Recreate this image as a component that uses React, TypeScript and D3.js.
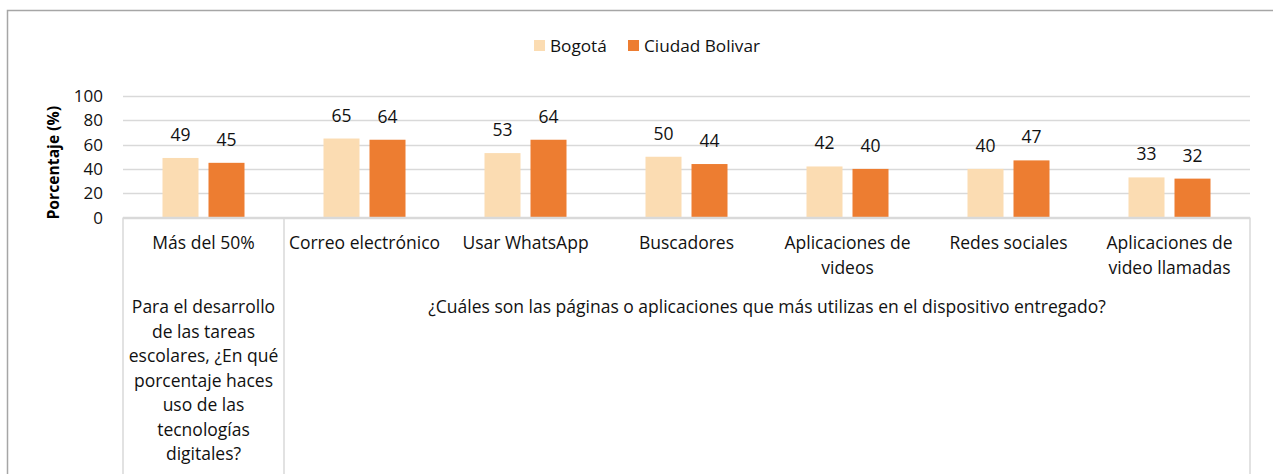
import React from "react";
import { scaleBand, scaleLinear } from "d3";

const categories = [
  "Más del 50%",
  "Correo electrónico",
  "Usar WhatsApp",
  "Buscadores",
  "Aplicaciones de videos",
  "Redes sociales",
  "Aplicaciones de video llamadas"
];
const categoryLines = [
  ["Más del 50%"],
  ["Correo electrónico"],
  ["Usar WhatsApp"],
  ["Buscadores"],
  ["Aplicaciones de", "videos"],
  ["Redes sociales"],
  ["Aplicaciones de", "video llamadas"]
];
const series = ["Bogotá", "Ciudad Bolivar"];
const bogota = [49, 65, 53, 50, 42, 40, 33];
const ciudadBolivar = [45, 64, 64, 44, 40, 47, 32];
const yTicks = [0, 20, 40, 60, 80, 100];

const groups = [
  {
    from: 0,
    to: 0,
    lines: [
      "Para el desarrollo",
      "de las tareas",
      "escolares, ¿En qué",
      "porcentaje haces",
      "uso de las",
      "tecnologías",
      "digitales?"
    ]
  },
  {
    from: 1,
    to: 6,
    lines: [
      "¿Cuáles son las páginas o aplicaciones que más utilizas en el dispositivo entregado?"
    ]
  }
];

const colors = ["#FBDCB2", "#ED7D31"];
const font = "'Open Sans', 'Noto Sans', sans-serif";
const ink = "#111";

export default function App() {
  const width = 1273,
    height = 474;
  const margin = { left: 123, right: 23, top: 96, bottom: 256.5 };
  const x0 = margin.left,
    x1 = width - margin.right,
    yBase = height - margin.bottom;

  const x = scaleBand<string>().domain(categories).range([x0, x1]);
  const bw = x.bandwidth();
  const xs = scaleBand<string>()
    .domain(series)
    .range([bw / 2 - 41, bw / 2 + 41])
    .paddingInner(10 / 46);
  const y = scaleLinear().domain([0, 100]).range([yBase, margin.top]);

  const values = [bogota, ciudadBolivar];

  return (
    <svg
      width={width}
      height={height}
      style={{ position: "absolute", left: 0, top: 0, background: "#fff" }}
      fontFamily={font}
    >
      <rect x={0} y={0} width={width} height={height} fill="#fff" />
      {/* outer border */}
      <path d={`M7.5,${height} V10.5 H${width}`} fill="none" stroke="#A6A6A6" strokeWidth={1.5} />

      {/* legend */}
      <g>
        {series.map((s, i) => {
          const lx = i === 0 ? 534 : 628;
          return (
            <g key={s}>
              <rect x={lx} y={40} width={11} height={11} fill={colors[i]} />
              <text x={lx + 16} y={52} fontSize={17.2} fill={ink}>
                {s}
              </text>
            </g>
          );
        })}
      </g>

      {/* gridlines */}
      {yTicks.map(t => (
        <line
          key={t}
          x1={x0}
          x2={x1}
          y1={Math.round(y(t)) + 0.5}
          y2={Math.round(y(t)) + 0.5}
          stroke="#D9D9D9"
          strokeWidth={1.5}
        />
      ))}

      {/* y tick labels */}
      {yTicks.map(t => (
        <text
          key={t}
          x={103}
          y={y(t) + 6}
          textAnchor="end"
          fontSize={17}
          fill={ink}
        >
          {t}
        </text>
      ))}

      <text
        transform={`translate(59, ${(y(0) + y(100)) / 2 + 6}) rotate(-90)`}
        textAnchor="middle"
        fontSize={15.7}
        fontWeight="bold"
        fill="#000"
      >
        Porcentaje (%)
      </text>

      {/* bars */}
      {categories.map((c, ci) =>
        series.map((s, si) => {
          const v = values[si][ci];
          const bx = (x(c) as number) + (xs(s) as number);
          return (
            <g key={c + s}>
              <rect
                x={bx}
                y={y(v)}
                width={xs.bandwidth()}
                height={yBase - y(v)}
                fill={colors[si]}
              />
              <text
                x={bx + xs.bandwidth() / 2}
                y={y(v) - 17}
                textAnchor="middle"
                fontSize={17.5}
                fill={ink}
              >
                {v}
              </text>
            </g>
          );
        })
      )}

      {/* category axis */}
      <line x1={x0} x2={x1} y1={yBase} y2={yBase} stroke="#D9D9D9" strokeWidth={1.5} />
      {groups.map(g => (
        <line
          key={"l" + g.from}
          x1={x(categories[g.from])}
          x2={x(categories[g.from])}
          y1={yBase}
          y2={height}
          stroke="#D9D9D9"
          strokeWidth={1.5}
        />
      ))}
      <line x1={x1} x2={x1} y1={yBase} y2={height} stroke="#D9D9D9" strokeWidth={1.5} />

      {categories.map((c, ci) => (
        <text key={c} textAnchor="middle" fontSize={17.5} fill={ink}>
          {categoryLines[ci].map((ln, li) => (
            <tspan key={li} x={(x(c) as number) + bw / 2} y={249 + li * 24.5}>
              {ln}
            </tspan>
          ))}
        </text>
      ))}

      {groups.map(g => {
        const gx0 = x(categories[g.from]) as number;
        const gx1 = (x(categories[g.to]) as number) + bw;
        return (
          <text key={"g" + g.from} textAnchor="middle" fontSize={17.5} fill={ink}>
            {g.lines.map((ln, li) => (
              <tspan key={li} x={(gx0 + gx1) / 2} y={313 + li * 24.5}>
                {ln}
              </tspan>
            ))}
          </text>
        );
      })}
    </svg>
  );
}
